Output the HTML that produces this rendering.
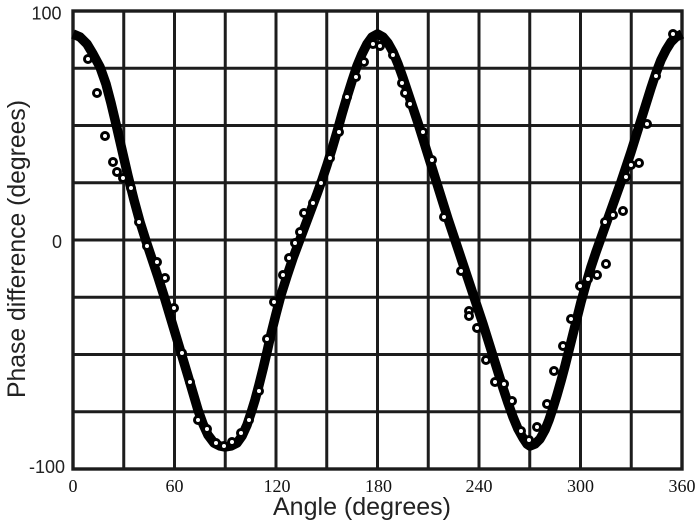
<!DOCTYPE html>
<html>
<head>
<meta charset="utf-8">
<style>
html,body{margin:0;padding:0;background:#fff;}
svg{display:block;}
</style>
</head>
<body>
<svg width="700" height="527" viewBox="0 0 700 527" xmlns="http://www.w3.org/2000/svg">
<rect x="0" y="0" width="700" height="527" fill="#fff"/>
<g stroke="#1c1c1c" stroke-width="3" fill="none">
<line x1="123.75" y1="11" x2="123.75" y2="469"/>
<line x1="174.5" y1="11" x2="174.5" y2="469"/>
<line x1="225.25" y1="11" x2="225.25" y2="469"/>
<line x1="276" y1="11" x2="276" y2="469"/>
<line x1="326.75" y1="11" x2="326.75" y2="469"/>
<line x1="377.5" y1="11" x2="377.5" y2="469"/>
<line x1="428.25" y1="11" x2="428.25" y2="469"/>
<line x1="479" y1="11" x2="479" y2="469"/>
<line x1="529.75" y1="11" x2="529.75" y2="469"/>
<line x1="580.5" y1="11" x2="580.5" y2="469"/>
<line x1="631.25" y1="11" x2="631.25" y2="469"/>
<line x1="73" y1="68.25" x2="682" y2="68.25"/>
<line x1="73" y1="125.5" x2="682" y2="125.5"/>
<line x1="73" y1="182.75" x2="682" y2="182.75"/>
<line x1="73" y1="240" x2="682" y2="240"/>
<line x1="73" y1="297.25" x2="682" y2="297.25"/>
<line x1="73" y1="354.5" x2="682" y2="354.5"/>
<line x1="73" y1="411.75" x2="682" y2="411.75"/>
<rect x="73" y="11" width="609" height="458" stroke-width="3.4"/>
</g>
<polyline fill="none" stroke="#000" stroke-width="9.5" stroke-linejoin="round" stroke-linecap="butt" points="73,34 80,37 87,44 93,54 100,67 106,84 111,103 116,124 122,150 128,176 134,200 140,222 146,241 152,259 158,277 164,296 170,316 176,336 182,356 188,376 193,393 198,410 203,424 208,435 214,443 220,446 225,447 231,446 237,443 242,436 247,425 251,413 255,400 259,385 263,369 267,352 271,334 276,314 281,295 287,276 293,258 299,242 305,226 311,210 317,194 322,180 327,165 332,149 337,132 342,114 347,97 352,81 357,66 362,54 367,44 372,37 377.5,34 383,37 388,43 393,52 398,64 403,78 408,93 413,108 418,123 423,139 428,155 433,171 438,187 443,203 448,219 453,234 458,249 463,264 468,279 473,294 478,309 483,324 488,340 493,356 498,372 503,388 508,403 513,417 518,429 523,438 527,444 530,446 535,444 540,439 545,430 549,420 553,408 557,395 561,381 565,366 569,350 573,334 577,318 581,302 586,284 591,267 596,252 601,238 606,224 611,210 616,196 621,182 626,167 631,152 636,136 641,120 646,104 651,88 656,73 661,60 666,50 671,42 676,37 682,34"/>
<g fill="#fff" stroke="#000" stroke-width="3">
<circle cx="88" cy="59" r="3.5"/>
<circle cx="97" cy="93" r="3.5"/>
<circle cx="105" cy="136" r="3.5"/>
<circle cx="113" cy="162" r="3.5"/>
<circle cx="117" cy="172" r="3.5"/>
<circle cx="123" cy="178" r="3.5"/>
<circle cx="131" cy="188" r="3.5"/>
<circle cx="139" cy="222" r="3.5"/>
<circle cx="147" cy="246" r="3.5"/>
<circle cx="157" cy="262" r="3.5"/>
<circle cx="165" cy="278" r="3.5"/>
<circle cx="174" cy="308" r="3.5"/>
<circle cx="182" cy="353" r="3.5"/>
<circle cx="190" cy="382" r="3.5"/>
<circle cx="198" cy="420" r="3.5"/>
<circle cx="207" cy="429" r="3.5"/>
<circle cx="216" cy="443" r="3.5"/>
<circle cx="224" cy="446" r="3.5"/>
<circle cx="232" cy="442" r="3.5"/>
<circle cx="241" cy="433" r="3.5"/>
<circle cx="249" cy="420" r="3.5"/>
<circle cx="259" cy="391" r="3.5"/>
<circle cx="267" cy="339" r="3.5"/>
<circle cx="274" cy="302" r="3.5"/>
<circle cx="283" cy="275" r="3.5"/>
<circle cx="289" cy="258" r="3.5"/>
<circle cx="295" cy="243" r="3.5"/>
<circle cx="300" cy="232" r="3.5"/>
<circle cx="304" cy="213" r="3.5"/>
<circle cx="313" cy="203" r="3.5"/>
<circle cx="321" cy="183" r="3.5"/>
<circle cx="330" cy="158" r="3.5"/>
<circle cx="339" cy="132" r="3.5"/>
<circle cx="347" cy="97" r="3.5"/>
<circle cx="356" cy="77" r="3.5"/>
<circle cx="364" cy="62" r="3.5"/>
<circle cx="373" cy="44" r="3.5"/>
<circle cx="380" cy="46" r="3.5"/>
<circle cx="393" cy="55" r="3.5"/>
<circle cx="402" cy="83" r="3.5"/>
<circle cx="405" cy="93" r="3.5"/>
<circle cx="410" cy="104" r="3.5"/>
<circle cx="423" cy="132" r="3.5"/>
<circle cx="432" cy="160" r="3.5"/>
<circle cx="444" cy="217" r="3.5"/>
<circle cx="461" cy="271" r="3.5"/>
<circle cx="469" cy="311" r="3.5"/>
<circle cx="469" cy="316" r="3.5"/>
<circle cx="477" cy="328" r="3.5"/>
<circle cx="486" cy="360" r="3.5"/>
<circle cx="495" cy="382" r="3.5"/>
<circle cx="504" cy="384" r="3.5"/>
<circle cx="512" cy="401" r="3.5"/>
<circle cx="521" cy="431" r="3.5"/>
<circle cx="529" cy="440" r="3.5"/>
<circle cx="537" cy="427" r="3.5"/>
<circle cx="547" cy="404" r="3.5"/>
<circle cx="554" cy="371" r="3.5"/>
<circle cx="563" cy="346" r="3.5"/>
<circle cx="571" cy="319" r="3.5"/>
<circle cx="580" cy="286" r="3.5"/>
<circle cx="588" cy="279" r="3.5"/>
<circle cx="597" cy="275" r="3.5"/>
<circle cx="606" cy="264" r="3.5"/>
<circle cx="605" cy="222" r="3.5"/>
<circle cx="613" cy="215" r="3.5"/>
<circle cx="623" cy="211" r="3.5"/>
<circle cx="626" cy="177" r="3.5"/>
<circle cx="631" cy="165" r="3.5"/>
<circle cx="639" cy="163" r="3.5"/>
<circle cx="647" cy="124" r="3.5"/>
<circle cx="656" cy="76" r="3.5"/>
<circle cx="673" cy="34" r="3.5"/>
</g>
<g font-family="'Liberation Sans', Arial, sans-serif" font-size="18" fill="#222" text-anchor="end">
<text x="61.5" y="19.5">100</text>
<text x="62" y="248">0</text>
<text x="65" y="473">-100</text>
</g>
<g font-family="'Liberation Serif', 'Times New Roman', serif" font-size="18" fill="#111" text-anchor="middle">
<text x="73" y="492">0</text>
<text x="174.5" y="492">60</text>
<text x="277" y="492">120</text>
<text x="378.5" y="492">180</text>
<text x="479" y="492">240</text>
<text x="580.5" y="492">300</text>
<text x="682" y="492">360</text>
</g>
<text x="362" y="515" font-family="'Liberation Sans', Arial, sans-serif" font-size="25" fill="#222" text-anchor="middle" textLength="178" lengthAdjust="spacingAndGlyphs">Angle (degrees)</text>
<text transform="translate(25,249) rotate(-90)" x="0" y="0" font-family="'Liberation Sans', Arial, sans-serif" font-size="25" fill="#222" text-anchor="middle" textLength="298" lengthAdjust="spacingAndGlyphs">Phase difference (degrees)</text>
</svg>
</body>
</html>
